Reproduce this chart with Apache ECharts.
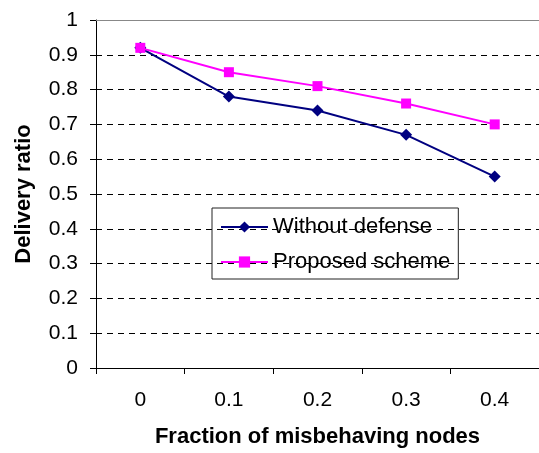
<!DOCTYPE html>
<html><head><meta charset="utf-8">
<script src="https://cdn.jsdelivr.net/npm/echarts@6/dist/echarts.min.js"></script>
<style>html,body{margin:0;padding:0;background:#fff}#c{width:539px;height:453px}</style>
</head><body><div id="c"></div>
<script>
var categories = ['0', '0.1', '0.2', '0.3', '0.4'];
var withoutDefense = [0.92, 0.78, 0.74, 0.67, 0.55];
var proposedScheme = [0.92, 0.85, 0.81, 0.76, 0.70];
var yTicks = [0, 0.1, 0.2, 0.3, 0.4, 0.5, 0.6, 0.7, 0.8, 0.9, 1];

var font = 'Liberation Sans, Arial, sans-serif';
var chart = echarts.init(document.getElementById('c'));
chart.setOption({
  animation: false,
  backgroundColor: '#fff',
  grid: {left: 96, right: 0, top: 20, bottom: 84},
  legend: {
    orient: 'vertical', left: 212, top: 208,
    itemWidth: 47, itemHeight: 14, itemGap: 13,
    padding: [8, 8, 6, 8],
    borderColor: '#222', borderWidth: 1,
    textStyle: {fontFamily: font, fontSize: 22, color: '#000'},
    data: ['Without defense', 'Proposed scheme']
  },
  xAxis: [{
    type: 'category', data: categories, boundaryGap: true,
    name: 'Fraction of misbehaving nodes', nameLocation: 'middle', nameGap: 58,
    nameTextStyle: {fontFamily: font, fontSize: 22, fontWeight: 'bold', color: '#000'},
    axisLine: {lineStyle: {color: '#000', width: 1}},
    axisTick: {show: true, alignWithLabel: false, length: 6, lineStyle: {color: '#000'}},
    axisLabel: {fontFamily: font, fontSize: 21, color: '#000', margin: 22}
  }, {
    type: 'category', data: categories, position: 'top',
    axisLine: {lineStyle: {color: '#888', width: 1}},
    axisTick: {show: false}, axisLabel: {show: false}
  }],
  yAxis: {
    type: 'value', min: 0, max: 1, interval: 0.1,
    name: 'Delivery ratio', nameLocation: 'middle', nameGap: 61, nameRotate: 90,
    nameTextStyle: {fontFamily: font, fontSize: 22, fontWeight: 'bold', color: '#000'},
    axisLine: {show: true, lineStyle: {color: '#000', width: 1}},
    axisTick: {show: true, length: 6, lineStyle: {color: '#000'}},
    axisLabel: {fontFamily: font, fontSize: 21, color: '#000', margin: 18,
      formatter: function (v) { return yTicks.indexOf(Math.round(v * 10) / 10) >= 0 ? String(Math.round(v * 10) / 10) : ''; }},
    splitLine: {show: true, lineStyle: {color: '#000', type: [6, 5], width: 1}}
  },
  series: [{
    name: 'Without defense', type: 'line', data: withoutDefense,
    symbol: 'diamond', symbolSize: 12, color: '#000080',
    lineStyle: {width: 2, color: '#000080'}, itemStyle: {color: '#000080'}
  }, {
    name: 'Proposed scheme', type: 'line', data: proposedScheme,
    symbol: 'rect', symbolSize: 10, color: '#FF00FF',
    lineStyle: {width: 2, color: '#FF00FF'}, itemStyle: {color: '#FF00FF'}
  }]
});
</script></body></html>
